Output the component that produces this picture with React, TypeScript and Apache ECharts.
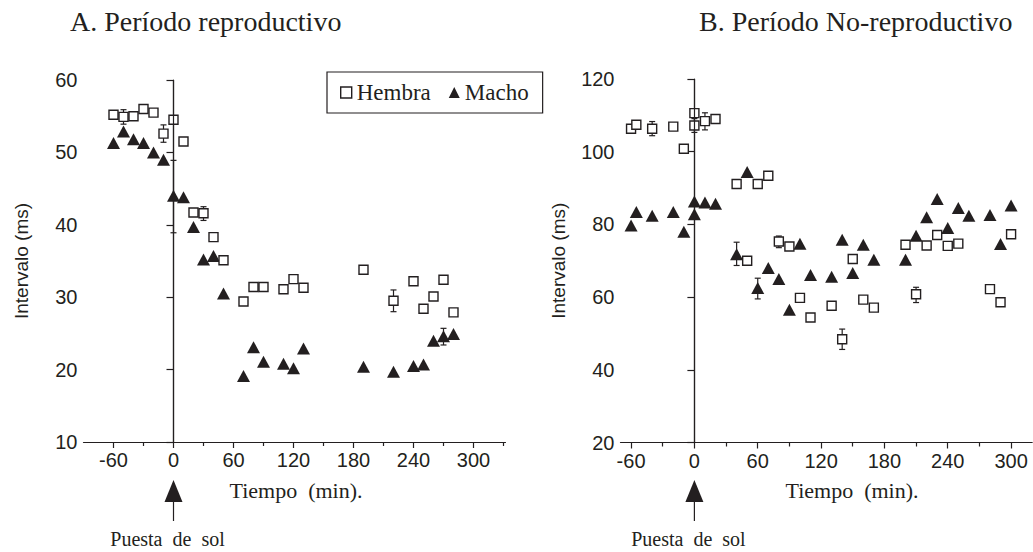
import { useEffect, useRef } from "react";
import * as echarts from "echarts";

const INK = "#231f20";
const SERIF = "'Liberation Serif', 'Times New Roman', serif";
const SANS = "'Liberation Sans', Arial, sans-serif";

// Panel A: reproductive period — [time (min), interval (ms)]
const hembraA: [number, number][] = [
  [-60, 55.2], [-50, 54.9], [-40, 55.0], [-30, 56.0], [-20, 55.5], [-10, 52.6], [0, 54.5], [10, 51.5],
  [20, 41.7], [30, 41.6], [40, 38.3], [50, 35.1], [70, 29.4], [80, 31.4], [90, 31.4], [110, 31.1],
  [120, 32.5], [130, 31.3], [190, 33.8], [220, 29.5], [240, 32.2], [250, 28.4], [260, 30.1], [270, 32.4], [280, 27.9],
];
const machoA: [number, number][] = [
  [-60, 51.3], [-50, 52.9], [-40, 51.8], [-30, 51.3], [-20, 50.0], [-10, 49.0], [0, 44.0], [10, 43.8],
  [20, 39.7], [30, 35.2], [40, 35.7], [50, 30.5], [70, 19.1], [80, 23.1], [90, 21.1], [110, 20.8],
  [120, 20.2], [130, 22.9], [190, 20.4], [220, 19.7], [240, 20.5], [250, 20.7], [260, 24.0], [270, 24.6], [280, 24.9],
];
// error bars: [time, low, high]
const errA: [number, number, number][] = [
  [-50, 53.9, 55.9], [-10, 51.4, 53.8], [0, 38.9, 48.9], [30, 40.6, 42.5], [220, 28.0, 31.0], [270, 23.4, 25.7],
];

// Panel B: non-reproductive period
const hembraB: [number, number][] = [
  [-60, 106.3], [-55, 107.4], [-40, 106.3], [-20, 106.9], [-10, 100.8], [0, 110.6], [0, 107.2], [10, 108.4],
  [20, 109.0], [40, 91.1], [50, 70.0], [60, 91.1], [70, 93.4], [80, 75.3], [90, 73.9], [100, 59.8],
  [110, 54.4], [130, 57.6], [140, 48.4], [150, 70.5], [160, 59.3], [170, 57.1], [200, 74.4], [210, 60.8],
  [220, 74.2], [230, 77.1], [240, 74.1], [250, 74.7], [280, 62.2], [290, 58.6], [300, 77.3],
];
const machoB: [number, number][] = [
  [-60, 79.7], [-55, 83.4], [-40, 82.4], [-20, 83.4], [-10, 78.0], [0, 86.3], [0, 82.8], [10, 86.0],
  [20, 85.7], [40, 71.8], [50, 94.4], [60, 62.5], [70, 68.0], [80, 65.0], [90, 56.5], [100, 74.7],
  [110, 66.1], [130, 65.6], [140, 75.8], [150, 66.6], [160, 74.4], [170, 70.3], [200, 70.3], [210, 76.9],
  [220, 82.0], [230, 87.0], [240, 79.0], [250, 84.5], [260, 82.4], [280, 82.6], [290, 74.6], [300, 85.2],
];
const errB: [number, number, number][] = [
  [-40, 104.4, 108.3], [0, 105.3, 109.1], [10, 106.0, 110.7], [40, 68.7, 75.1], [60, 59.5, 65.2],
  [80, 73.6, 76.8], [140, 45.6, 51.2], [210, 58.5, 62.7],
];

const majorTicks = [-60, 0, 60, 120, 180, 240, 300];
const minorTicksA = [-30, 30, 90, 150, 210, 270, 330];
const minorTicksB = [-30, 30, 90, 150, 210, 270];

const titles = ["A. Período reproductivo", "B. Período No-reproductivo"];
const xName = "Tiempo  (min).";
const yName = "Intervalo (ms)";
const sunsetLabel = "Puesta  de  sol";

function errorSeries(data: [number, number, number][], idx: number) {
  return {
    type: "custom",
    xAxisIndex: idx * 2,
    yAxisIndex: idx,
    data,
    z: 1,
    silent: true,
    encode: { x: 0, y: [1, 2] },
    renderItem: (_p: any, api: any) => {
      const x = api.value(0);
      const hi = api.coord([x, api.value(2)]);
      const lo = api.coord([x, api.value(1)]);
      const w = 3;
      const st = { stroke: INK, lineWidth: 1.2 };
      return {
        type: "group",
        children: [
          { type: "line", shape: { x1: hi[0], y1: hi[1], x2: lo[0], y2: lo[1] }, style: st },
          { type: "line", shape: { x1: hi[0] - w, y1: hi[1], x2: hi[0] + w, y2: hi[1] }, style: st },
          { type: "line", shape: { x1: lo[0] - w, y1: lo[1], x2: lo[0] + w, y2: lo[1] }, style: st },
        ],
      };
    },
  };
}

function squareSeries(data: [number, number][], idx: number) {
  return {
    name: "Hembra",
    type: "scatter",
    xAxisIndex: idx * 2,
    yAxisIndex: idx,
    data,
    symbol: "rect",
    symbolSize: 9,
    z: 3,
    itemStyle: { color: "#fff", borderColor: INK, borderWidth: 1.4, opacity: 1 },
  };
}

function triangleSeries(data: [number, number][], idx: number) {
  return {
    name: "Macho",
    type: "scatter",
    xAxisIndex: idx * 2,
    yAxisIndex: idx,
    data,
    symbol: "triangle",
    symbolSize: [13, 12],
    z: 2,
    itemStyle: { color: INK, opacity: 1 },
    markLine: {
      silent: true,
      symbol: ["none", "none"],
      label: { show: false },
      lineStyle: { color: INK, width: 1.2, type: "solid" },
      data: [{ xAxis: 0 }],
    },
  };
}

function xAxes(grid: number, min: number, max: number, minor: number[]) {
  return [
    {
      type: "value", gridIndex: grid, min, max, position: "bottom",
      axisLine: { show: true, onZero: false, lineStyle: { color: INK, width: 1.2 } },
      axisTick: { show: true, length: 6, customValues: majorTicks, lineStyle: { color: INK, width: 1.2 } },
      axisLabel: { customValues: majorTicks, color: INK, fontFamily: SANS, fontSize: 20, margin: 8 },
      splitLine: { show: false },
    },
    {
      type: "value", gridIndex: grid, min, max, position: "bottom",
      axisLine: { show: false, onZero: false },
      axisTick: { show: true, length: 4, customValues: minor, lineStyle: { color: INK, width: 1.2 } },
      axisLabel: { show: false },
      splitLine: { show: false },
    },
  ];
}

function yAxis(grid: number, min: number, max: number, interval: number) {
  return {
    type: "value", gridIndex: grid, min, max, interval,
    name: yName, nameLocation: "middle", nameGap: 53,
    nameTextStyle: { color: INK, fontFamily: SANS, fontSize: 19 },
    axisLine: { show: true, lineStyle: { color: INK, width: 1.2 } },
    axisTick: { show: true, length: 7, lineStyle: { color: INK, width: 1.2 } },
    axisLabel: { color: INK, fontFamily: SANS, fontSize: 20, margin: 6 },
    splitLine: { show: false },
  };
}

export default function App() {
  const ref = useRef<HTMLDivElement>(null);
  useEffect(() => {
    if (!ref.current) return;
    const chart = echarts.init(ref.current, undefined, { renderer: "svg" });
    const titleStyle = { fontFamily: SERIF, fontWeight: "normal", fontSize: 28, color: INK };
    chart.setOption({
      animation: false,
      backgroundColor: "#fff",
      title: [
        { text: titles[0], left: 70, top: 7, padding: 0, textStyle: titleStyle },
        { text: titles[1], left: 699, top: 7, padding: 0, textStyle: titleStyle },
      ],
      legend: {
        left: 327, top: 72,
        borderColor: INK, borderWidth: 1.2,
        padding: [9, 14, 9, 13],
        itemGap: 18, itemWidth: 11, itemHeight: 11,
        textStyle: { fontFamily: SERIF, fontSize: 23, color: INK },
        data: [
          { name: "Hembra", icon: "rect", itemStyle: { color: "#fff", borderColor: INK, borderWidth: 1.4 } },
          { name: "Macho", icon: "triangle", itemStyle: { color: INK } },
        ],
      },
      grid: [
        { left: 83.5, top: 80, width: 422, height: 362 },
        { left: 620.5, top: 79, width: 411.7, height: 363.5 },
      ],
      xAxis: [...xAxes(0, -90, 332, minorTicksA), ...xAxes(1, -70, 320, minorTicksB)],
      yAxis: [yAxis(0, 10, 60, 10), yAxis(1, 20, 120, 20)],
      series: [
        errorSeries(errA, 0),
        triangleSeries(machoA, 0),
        squareSeries(hembraA, 0),
        errorSeries(errB, 1),
        triangleSeries(machoB, 1),
        squareSeries(hembraB, 1),
      ],
    });

    const x0a = chart.convertToPixel({ xAxisIndex: 0 }, 0) as number;
    const x0b = chart.convertToPixel({ xAxisIndex: 2 }, 0) as number;
    const arrow = (x: number) => [
      { type: "polygon", shape: { points: [[x, 480], [x - 9, 502], [x + 9, 502]] }, style: { fill: INK } },
      { type: "line", shape: { x1: x, y1: 501, x2: x, y2: 521 }, style: { stroke: INK, lineWidth: 1.2 } },
    ];
    const lbl = (x: number, y: number, text: string, fontSize: number) => ({
      type: "text", x, y,
      style: { text, fontFamily: SERIF, fontSize, fill: INK, align: "center", verticalAlign: "middle" },
    });
    chart.setOption({
      graphic: [
        ...arrow(x0a),
        ...arrow(x0b),
        lbl(x0a - 6, 539, sunsetLabel, 20),
        lbl(x0b - 6, 539, sunsetLabel, 20),
        lbl(296, 490, xName, 22),
        lbl(852, 490, xName, 22),
      ],
    });
    return () => chart.dispose();
  }, []);
  return <div ref={ref} style={{ position: "absolute", left: 0, top: 0, width: 1033, height: 552 }} />;
}
